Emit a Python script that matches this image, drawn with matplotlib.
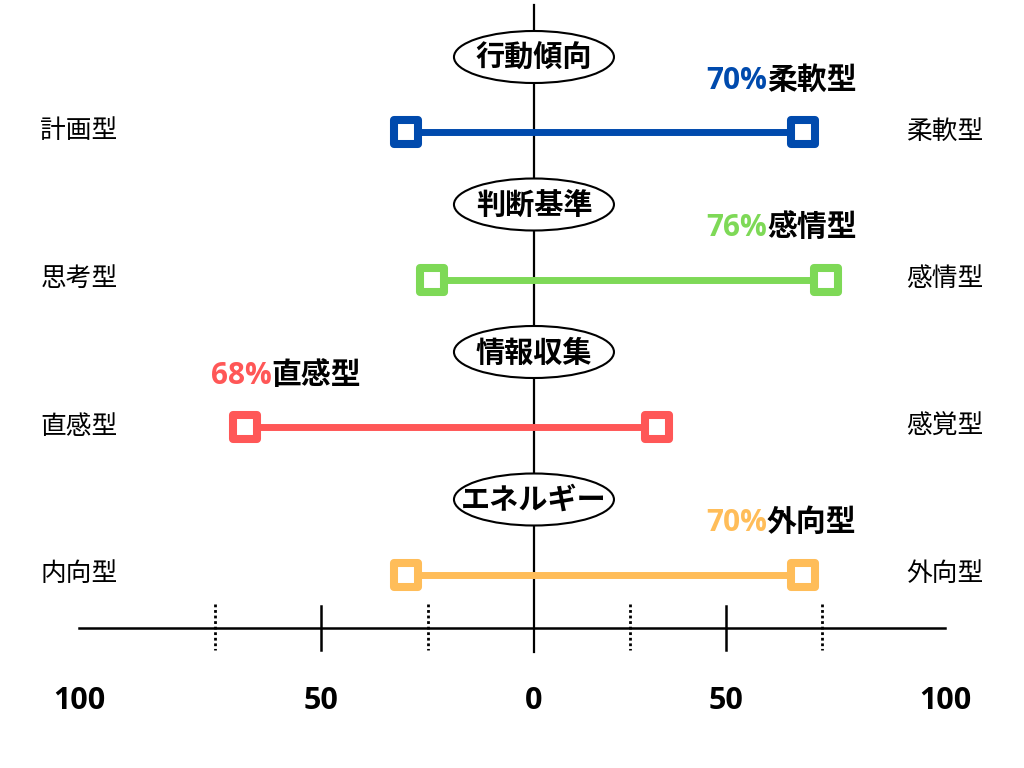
import numpy as np
import matplotlib
matplotlib.use('Agg')
from matplotlib import pyplot as plt
from matplotlib import transforms
from matplotlib.markers import MarkerStyle
from matplotlib.patches import Ellipse
from matplotlib.offsetbox import TextArea, HPacker, AnnotationBbox

plt.rcParams['font.family'] = ['Open Sans', 'Noto Sans CJK JP', 'DejaVu Sans']

# data
categories = ['行動傾向', '判断基準', '情報収集', 'エネルギー']
left_labels = ['計画型', '思考型', '直感型', '内向型']
right_labels = ['柔軟型', '感情型', '感覚型', '外向型']
left_values = [30, 24, 68, 30]
right_values = [70, 76, 32, 70]
result_pct = [70, 76, 68, 70]
result_type = ['柔軟型', '感情型', '直感型', '外向型']
result_side = ['right', 'right', 'left', 'right']
colors = ['#004AAD', '#7ED957', '#FF5757', '#FFBD59']
major_ticks = [-100, -50, 0, 50, 100]
major_labels = ['100', '50', '0', '50', '100']
minor_ticks = [-75, -25, 25, 75]

# left half of the reference is drawn a bit wider than the right
def fwd(x):
    x = np.asarray(x, dtype=float)
    return np.where(x < 0, x * 1.107, x)

def inv(x):
    x = np.asarray(x, dtype=float)
    return np.where(x < 0, x / 1.107, x)

fig = plt.figure(figsize=(10.24, 7.68), dpi=100)
ax = fig.add_axes([0, 0, 1, 1])
ax.set_xscale('function', functions=(fwd, inv))
ax.set_xlim(-125.6, 127.6)
ax.set_ylim(768, 0)
ax.axis('off')

row_y = 132 + 147.5 * np.arange(len(categories))
axis_y = 628

# centre line and bottom axis
ax.plot([0, 0], [5, 652], color='black', lw=1.6, zorder=1)
ax.plot([-107, 107], [axis_y, axis_y], color='black', lw=1.8, zorder=1)
for t in major_ticks:
    if abs(t) == 50:
        ax.plot([t, t], [axis_y - 22, axis_y + 22], color='black', lw=1.8)
for t in minor_ticks:
    ax.plot([t, t], [axis_y - 24, axis_y + 22], color='black', lw=2, ls=(0, (1, 1)))
for t, lab in zip(major_ticks, major_labels):
    # end labels sit a little outside the axis end
    x = t * 1.07 if abs(t) == 100 else t
    ax.text(x, 701, lab, ha='center', va='center', fontsize=22, fontweight='bold')

marker = MarkerStyle('s', joinstyle='round')

for i, cat in enumerate(categories):
    y = row_y[i]
    c = colors[i]

    # bar with end markers
    ax.plot([-left_values[i], right_values[i]], [y, y], color=c, lw=5,
            marker=marker, ms=17, mfc='white', mec=c, mew=5.8, zorder=3)

    # side labels
    ax.text(-107, y, left_labels[i], ha='center', va='center', fontsize=18.5)
    ax.text(107, y, right_labels[i], ha='center', va='center', fontsize=18.5)

    # category ellipse
    ey = y - 75
    tr = fig.dpi_scale_trans + transforms.ScaledTranslation(0, ey, ax.transData)
    ax.add_patch(Ellipse((0, 0), 1.6, 0.52, transform=tr, fc='white', ec='black', lw=1.5, zorder=4))
    ax.text(0, ey + 2, cat, ha='center', va='center', fontsize=21, fontweight='bold', zorder=5)

    # result label
    if result_side[i] == 'right':
        anchor, align = 84, (1, 0.5)
    else:
        anchor, align = -76, (0, 0.5)
    box = HPacker(children=[
        TextArea(f'{result_pct[i]}%', textprops=dict(color=c, fontsize=21.5, fontweight='bold')),
        TextArea(result_type[i], textprops=dict(color='black', fontsize=21.5, fontweight='bold')),
    ], sep=0, pad=0, align='baseline')
    ab = AnnotationBbox(box, (anchor, y), xybox=(0, 37), boxcoords='offset points',
                        frameon=False, box_alignment=align)
    ax.add_artist(ab)

fig.savefig('out.png', dpi=100)
